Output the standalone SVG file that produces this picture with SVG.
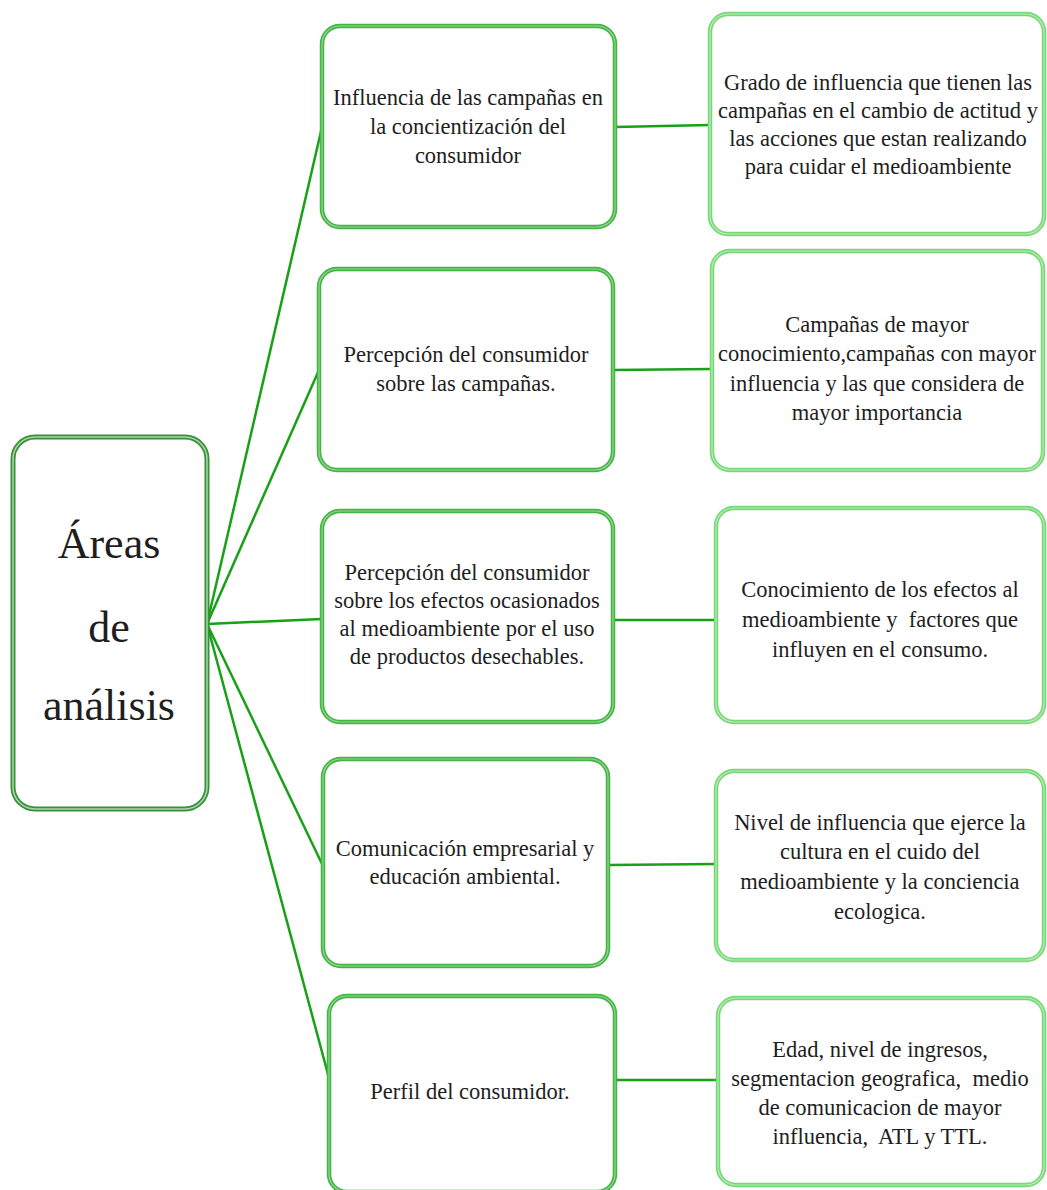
<svg xmlns="http://www.w3.org/2000/svg" width="1047" height="1190" viewBox="0 0 1047 1190">
<style>
.root{fill:#fff;stroke:#3a8f3a;stroke-width:5}
.rootin{fill:none;stroke:#a9d8a9;stroke-width:1.5}
.mid{fill:#fff;stroke:#45b445;stroke-width:4.5}
.midin{fill:none;stroke:#8fd88f;stroke-width:1.2}
.rgt{fill:#fff;stroke:#76d876;stroke-width:4.5}
.rgtin{fill:none;stroke:#b8ecb8;stroke-width:1.2}
.conn{stroke:#18a018;stroke-width:2.5;fill:none}
text{font-family:"Liberation Serif","Times New Roman",serif;fill:#1e1e1e;text-anchor:middle}
.t{font-size:22.5px}
.big{font-size:44px}
</style>
<rect width="1047" height="1190" fill="#fff"/>
<g id="connectors">
<line class="conn" x1="207" y1="624" x2="322" y2="127"/>
<line class="conn" x1="207" y1="624" x2="319" y2="370"/>
<line class="conn" x1="207" y1="624" x2="322" y2="619"/>
<line class="conn" x1="207" y1="624" x2="323" y2="866"/>
<line class="conn" x1="207" y1="624" x2="329" y2="1078"/>
<line class="conn" x1="615" y1="127" x2="710" y2="125"/>
<line class="conn" x1="613" y1="370" x2="712" y2="369"/>
<line class="conn" x1="613" y1="620" x2="716" y2="620"/>
<line class="conn" x1="608" y1="865" x2="716" y2="864"/>
<line class="conn" x1="615" y1="1080" x2="718" y2="1080"/>
</g>
<g id="root">
<rect class="root" x="13" y="437" width="194" height="372" rx="22"/>
<rect class="rootin" x="13" y="437" width="194" height="372" rx="22"/>
<text class="big" x="109" y="558">Áreas</text>
<text class="big" x="109" y="642">de</text>
<text class="big" x="109" y="720">análisis</text>
</g>
<g id="m1">
<rect class="mid" x="322" y="26" width="293" height="201" rx="18"/>
<rect class="midin" x="322" y="26" width="293" height="201" rx="18"/>
<text class="t" x="468" y="105">Influencia de las campañas en</text>
<text class="t" x="468" y="134">la concientización del</text>
<text class="t" x="468" y="163">consumidor</text>
</g>
<g id="m2">
<rect class="mid" x="319" y="269" width="294" height="201" rx="18"/>
<rect class="midin" x="319" y="269" width="294" height="201" rx="18"/>
<text class="t" x="466" y="362">Percepción del consumidor</text>
<text class="t" x="466" y="391">sobre las campañas.</text>
</g>
<g id="m3">
<rect class="mid" x="322" y="511" width="291" height="211" rx="18"/>
<rect class="midin" x="322" y="511" width="291" height="211" rx="18"/>
<text class="t" x="467" y="580">Percepción del consumidor</text>
<text class="t" x="467" y="608">sobre los efectos ocasionados</text>
<text class="t" x="467" y="636">al medioambiente por el uso</text>
<text class="t" x="467" y="664">de productos desechables.</text>
</g>
<g id="m4">
<rect class="mid" x="323" y="759" width="285" height="207" rx="18"/>
<rect class="midin" x="323" y="759" width="285" height="207" rx="18"/>
<text class="t" x="465" y="856">Comunicación empresarial y</text>
<text class="t" x="465" y="884">educación ambiental.</text>
</g>
<g id="m5">
<rect class="mid" x="329" y="996" width="286" height="196" rx="18"/>
<rect class="midin" x="329" y="996" width="286" height="196" rx="18"/>
<text class="t" x="470" y="1099">Perfil del consumidor.</text>
</g>
<g id="r1">
<rect class="rgt" x="710" y="14" width="334" height="220" rx="18"/>
<rect class="rgtin" x="710" y="14" width="334" height="220" rx="18"/>
<text class="t" x="878" y="90">Grado de influencia que tienen las</text>
<text class="t" x="878" y="118">campañas en el cambio de actitud y</text>
<text class="t" x="878" y="146">las acciones que estan realizando</text>
<text class="t" x="878" y="174">para cuidar el medioambiente</text>
</g>
<g id="r2">
<rect class="rgt" x="712" y="251" width="331" height="219" rx="18"/>
<rect class="rgtin" x="712" y="251" width="331" height="219" rx="18"/>
<text class="t" x="877" y="332">Campañas de mayor</text>
<text class="t" x="877" y="361">conocimiento,campañas con mayor</text>
<text class="t" x="877" y="391">influencia y las que considera de</text>
<text class="t" x="877" y="420">mayor importancia</text>
</g>
<g id="r3">
<rect class="rgt" x="716" y="508" width="328" height="214" rx="18"/>
<rect class="rgtin" x="716" y="508" width="328" height="214" rx="18"/>
<text class="t" x="880" y="597">Conocimiento de los efectos al</text>
<text class="t" x="880" y="627" xml:space="preserve">medioambiente y  factores que</text>
<text class="t" x="880" y="657">influyen en el consumo.</text>
</g>
<g id="r4">
<rect class="rgt" x="716" y="771" width="328" height="189" rx="18"/>
<rect class="rgtin" x="716" y="771" width="328" height="189" rx="18"/>
<text class="t" x="880" y="830">Nivel de influencia que ejerce la</text>
<text class="t" x="880" y="859">cultura en el cuido del</text>
<text class="t" x="880" y="889">medioambiente y la conciencia</text>
<text class="t" x="880" y="919">ecologica.</text>
</g>
<g id="r5">
<rect class="rgt" x="718" y="998" width="326" height="187" rx="18"/>
<rect class="rgtin" x="718" y="998" width="326" height="187" rx="18"/>
<text class="t" x="880" y="1057">Edad, nivel de ingresos,</text>
<text class="t" x="880" y="1086" xml:space="preserve">segmentacion geografica,  medio</text>
<text class="t" x="880" y="1115">de comunicacion de mayor</text>
<text class="t" x="880" y="1144" xml:space="preserve">influencia,  ATL y TTL.</text>
</g>
</svg>
